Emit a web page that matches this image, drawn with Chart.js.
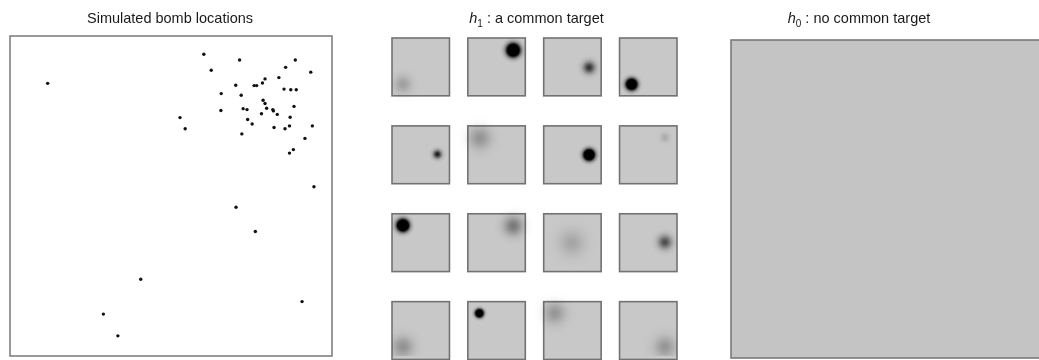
<!DOCTYPE html>
<html>
<head>
<meta charset="utf-8">
<script src="https://cdn.jsdelivr.net/npm/chart.js@4.4.0/dist/chart.umd.min.js"></script>
<style>
    html, body { margin: 0; padding: 0; background: #fff; width: 1039px; height: 360px; overflow: hidden; }
    canvas { position: absolute; top: 0; }
</style>
</head>
<body>
<canvas id="bombs" style="left:0px" width="345" height="360"></canvas>
<canvas id="h1" style="left:380px" width="315" height="360"></canvas>
<canvas id="h0" style="left:700px" width="345" height="360"></canvas>
<script>
// bomb locations, 0-100 on both axes
const bombX = [11.7, 60.2, 71.3, 62.5, 88.6, 85.6, 93.4, 83.5, 79.2, 78.4,
    75.8, 76.6, 70.1, 65.6, 71.8, 85.1, 87.2, 88.9, 78.6, 79.2,
    79.7, 72.4, 73.6, 65.5, 81.6, 81.8, 78.1, 83.0, 88.2, 87.0,
    73.8, 75.2, 86.8, 85.4, 82.0, 93.9, 72.0, 91.6, 88.0, 86.8,
    52.8, 54.4, 94.4, 70.2, 76.2, 40.6, 90.7, 29.0, 33.5];
const bombY = [85.2, 94.3, 92.5, 89.3, 92.5, 90.2, 88.7, 87.0, 86.6, 85.3,
    84.5, 84.5, 84.6, 82.0, 81.5, 83.4, 83.2, 83.2, 79.9, 78.9,
    77.4, 77.3, 77.0, 76.7, 77.0, 76.6, 75.7, 75.5, 78.0, 74.6,
    73.9, 72.5, 71.9, 71.0, 71.4, 71.9, 69.4, 68.0, 64.5, 63.4,
    74.5, 71.0, 52.9, 46.5, 38.9, 24.0, 17.0, 13.1, 6.3];

// one blob per small map under h1: cell, centre inside the cell (0-1), spread and peak
const blobRow = [0, 0, 0, 0, 1, 1, 1, 1, 2, 2, 2, 2, 3, 3, 3, 3];
const blobCol = [0, 1, 2, 3, 0, 1, 2, 3, 0, 1, 2, 3, 0, 1, 2, 3];
const blobX = [0.19, 0.79, 0.79, 0.21, 0.79, 0.21, 0.79, 0.79, 0.19, 0.79, 0.49, 0.79, 0.19, 0.20, 0.19, 0.79];
const blobY = [0.20, 0.79, 0.49, 0.20, 0.51, 0.79, 0.50, 0.80, 0.80, 0.79, 0.50, 0.51, 0.22, 0.80, 0.80, 0.22];
const blobSpread = [0.10, 0.07, 0.07, 0.055, 0.045, 0.13, 0.055, 0.05, 0.065, 0.11, 0.15, 0.08, 0.12, 0.04, 0.12, 0.12];
const blobPeak = [0.2, 3, 0.75, 3, 0.9, 0.26, 3, 0.15, 3, 0.4, 0.17, 0.62, 0.27, 3, 0.25, 0.25];

const colStep = 1.32;
const rowStep = 1.52;

const sans = '"Liberation Sans", Arial, sans-serif';

let mathTitle = {
    id: 'mathTitle',
    afterDraw(chart, args, opts) {
        const ctx = chart.ctx;
        const parts = opts.parts || [];
        const fontOf = p => (p.italic ? 'italic ' : '') + (p.sub ? '10px ' : '14.5px ') + sans;
        ctx.save();
        let total = 0;
        parts.forEach(p => {
            ctx.font = fontOf(p);
            p.w = ctx.measureText(p.text).width;
            total += p.w;
        });
        let x = (chart.chartArea.left + chart.chartArea.right) / 2 - total / 2 + (opts.shift || 0);
        ctx.fillStyle = '#1a1a1a';
        ctx.textBaseline = 'alphabetic';
        parts.forEach(p => {
            ctx.font = fontOf(p);
            ctx.fillText(p.text, x, p.sub ? 27 : 23);
            x += p.w;
        });
        ctx.restore();
    }
};

let panel = {
    id: 'panel',
    beforeDatasetsDraw(chart, args, opts) {
        const a = chart.chartArea;
        const ctx = chart.ctx;
        if (opts.fill) {
            ctx.fillStyle = opts.fill;
            ctx.fillRect(a.left, a.top, a.right - a.left, a.bottom - a.top);
        }
    },
    afterDatasetsDraw(chart, args, opts) {
        const a = chart.chartArea;
        const ctx = chart.ctx;
        if (opts.stroke) {
            ctx.save();
            ctx.strokeStyle = opts.stroke;
            ctx.lineWidth = 1.6;
            ctx.strokeRect(a.left, a.top, a.right - a.left, a.bottom - a.top);
            ctx.restore();
        }
    }
};

let cells = {
    id: 'cells',
    beforeDatasetsDraw(chart) {
        const xs = chart.scales.x, ys = chart.scales.y;
        const ctx = chart.ctx;
        ctx.save();
        for (let r = 0; r < 4; r++) {
            for (let c = 0; c < 4; c++) {
                const l = xs.getPixelForValue(c * colStep), rt = xs.getPixelForValue(c * colStep + 1);
                const t = ys.getPixelForValue(r * rowStep), b = ys.getPixelForValue(r * rowStep + 1);
                ctx.fillStyle = '#c8c8c8';
                ctx.fillRect(l, t, rt - l, b - t);
                ctx.strokeStyle = '#727272';
                ctx.lineWidth = 1.6;
                ctx.strokeRect(l, t, rt - l, b - t);
            }
        }
        ctx.restore();
    }
};

// soft gaussian spot used as the point style of each blob
let blobSprite = (chart, i) => {
    const xs = chart.scales.x;
    if (!xs || i === undefined || blobSpread[i] === undefined) return 'circle';
    const unit = xs.getPixelForValue(1) - xs.getPixelForValue(0);
    if (!isFinite(unit) || unit <= 0) return 'circle';
    const s = blobSpread[i] * unit;
    const R = Math.ceil(3.2 * s);
    const cv = document.createElement('canvas');
    cv.width = cv.height = 2 * R + 2;
    const g = cv.getContext('2d');
    const grad = g.createRadialGradient(R + 1, R + 1, 0, R + 1, R + 1, R);
    for (let k = 0; k <= 24; k++) {
        const t = k / 24;
        const a = Math.min(1, blobPeak[i] * Math.exp(-Math.pow(t * 3.2, 2) / 2));
        grad.addColorStop(t, 'rgba(0,0,0,' + (k === 24 ? 0 : a).toFixed(4) + ')');
    }
    g.fillStyle = grad;
    g.fillRect(0, 0, cv.width, cv.height);
    return cv;
};

let hidden = (min, max, reverse) => ({
    type: 'linear', min: min, max: max, reverse: !!reverse, display: false
});

let common = {
    responsive: false,
    animation: false,
    events: [],
    plugins: { legend: { display: false }, tooltip: { enabled: false } }
};

new Chart('bombs', {
    type: 'scatter',
    data: {
        datasets: [{
            data: bombX.map((x, i) => ({ x: x, y: bombY[i] })),
            pointRadius: 1.7,
            pointBorderWidth: 0,
            pointBackgroundColor: '#111'
        }]
    },
    options: Object.assign({}, common, {
        layout: { padding: { left: 10, right: 13, top: 36, bottom: 2 } },
        scales: { x: hidden(0, 100), y: hidden(0, 100) },
        plugins: Object.assign({}, common.plugins, {
            panel: { stroke: '#808080' },
            mathTitle: { parts: [{ text: 'Simulated bomb locations' }], shift: -1 }
        })
    }),
    plugins: [panel, mathTitle]
});

new Chart('h1', {
    type: 'scatter',
    data: {
        datasets: [{
            data: blobX.map((x, i) => ({ x: blobCol[i] * colStep + x, y: blobRow[i] * rowStep + 1 - blobY[i] })),
            pointRadius: 4,
            pointBorderWidth: 0,
            pointBackgroundColor: 'rgba(0,0,0,0)',
            pointStyle: c => blobSprite(c.chart, c.dataIndex)
        }]
    },
    options: Object.assign({}, common, {
        layout: { padding: { left: 12, right: 18, top: 38, bottom: 0 } },
        scales: { x: hidden(0, 3 * colStep + 1), y: hidden(0, 5.5, true) },
        plugins: Object.assign({}, common.plugins, {
            mathTitle: { parts: [{ text: 'h', italic: true }, { text: '1', sub: true }, { text: ' : a common target' }], shift: 2 }
        })
    }),
    plugins: [cells, mathTitle]
});

new Chart('h0', {
    type: 'scatter',
    data: { datasets: [{ data: [] }] },
    options: Object.assign({}, common, {
        layout: { padding: { left: 31, right: 0, top: 40, bottom: 2 } },
        scales: { x: hidden(0, 1), y: hidden(0, 1) },
        plugins: Object.assign({}, common.plugins, {
            panel: { fill: '#c4c4c4', stroke: '#7a7a7a' },
            mathTitle: { parts: [{ text: 'h', italic: true }, { text: '0', sub: true }, { text: ' : no common target' }], shift: -29 }
        })
    }),
    plugins: [panel, mathTitle]
});
</script>
</body>
</html>
